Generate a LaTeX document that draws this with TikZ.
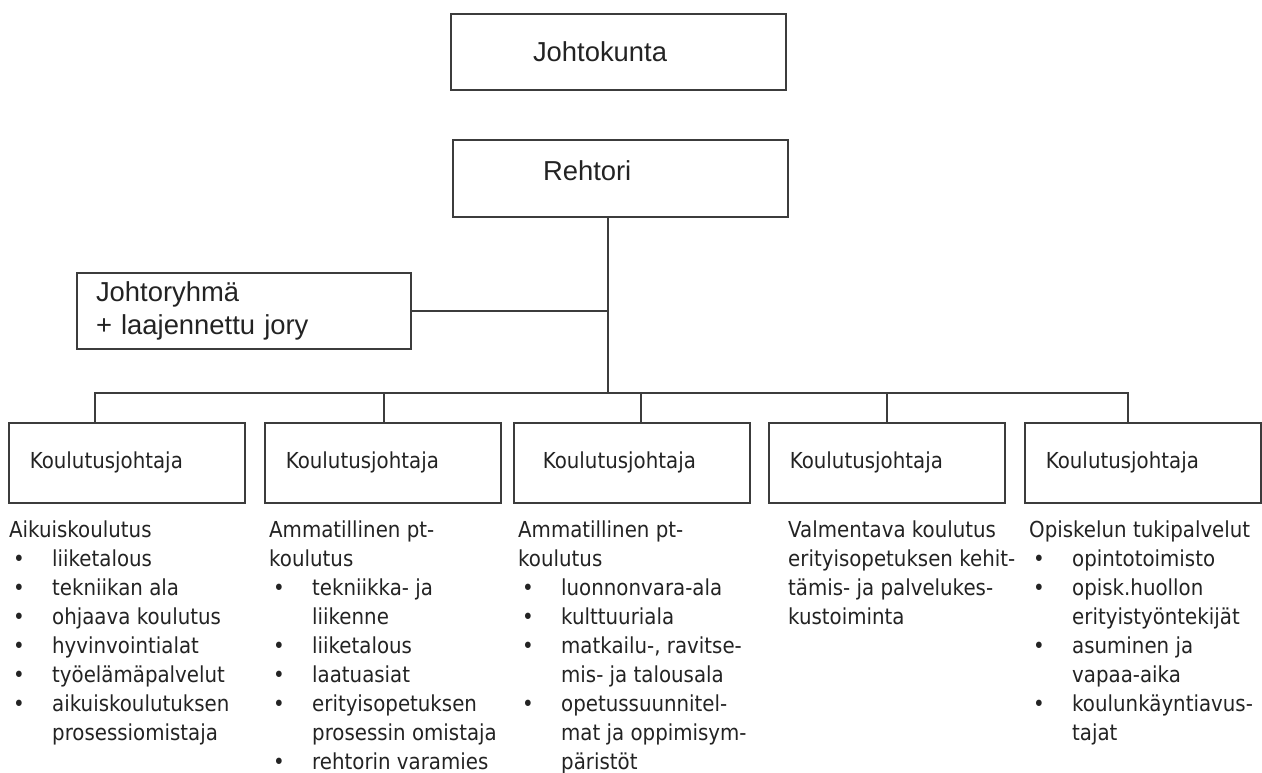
\documentclass[tikz,border=0pt]{standalone}
\usepackage{fontspec}
\usetikzlibrary{positioning}
\newfontfamily\arialfont{Liberation Sans}
\newfontfamily\tahomafont[FakeStretch=0.9]{DejaVu Sans}
\definecolor{boxline}{RGB}{60,60,60}
\definecolor{textgray}{RGB}{35,35,35}
\newcommand{\bitem}[1]{\unskip\hspace*{4pt}\makebox[39pt][l]{•}#1}
\newcommand{\bcont}[1]{\unskip\hspace*{43pt}#1}

\begin{document}
\begin{tikzpicture}[x=1pt, y=-1pt,
                    topbox/.style={draw=boxline, line width=1.6pt, align=left, minimum height=76pt, text=textgray, font=\arialfont\fontsize{27.4}{33}\selectfont},
                    kbox/.style={draw=boxline, line width=1.6pt, align=left, minimum height=80pt, inner xsep=21pt, text width=194pt, text=textgray, font=\tahomafont\fontsize{22}{29}\selectfont},
                    listtext/.style={align=left, inner sep=0pt, text=textgray, font=\tahomafont\fontsize{22}{29}\selectfont},
                    line/.style={draw=boxline, line width=1.6pt, line cap=rect}
                ]
                \useasboundingbox (0,0) rectangle (1262,773);

                % --- Johto ---
                \node[topbox, inner xsep=82pt, text width=171pt] (johtokunta) at (618.5,52) {Johtokunta};
                \node[topbox, minimum height=77pt, inner xsep=90pt, text width=155pt, text depth=15pt] (rehtori) at (620.5,178.5) {Rehtori};
                \node[topbox, inner xsep=19pt, text width=296pt] (jory) at (244,311) {Johtoryhmä\\+ laajennettu jory};

                % --- Koulutusjohtajat ---
                \node[kbox, anchor=north west] (k1) at (8,422) {Koulutusjohtaja};
                \node[kbox, right=18.4pt of k1] (k2) {Koulutusjohtaja};
                \node[kbox, right=11.4pt of k2, inner xsep=29pt, text width=178pt] (k3) {Koulutusjohtaja};
                \node[kbox, right=17.4pt of k3] (k4) {Koulutusjohtaja};
                \node[kbox, right=18.4pt of k4] (k5) {Koulutusjohtaja};

                \coordinate (trunk) at (608,393);
                \draw[line] (rehtori.south -| trunk) -- (trunk);
                \draw[line] (jory.east) -- (jory.east -| trunk);
                \foreach \i/\x in {1/95,2/384,3/641,4/887,5/1128}{
                    \coordinate (d\i) at (\x,393);
                    \draw[line] (d\i) -- (d\i |- k\i.north);
                }
                \draw[line] (d1) -- (d5);

                % --- Tehtavat ---
                \node[listtext, below right=13pt and 1pt of k1.south west] (list1) {\strut Aikuiskoulutus\\
                    \bitem{liiketalous}\\
                    \bitem{tekniikan ala}\\
                    \bitem{ohjaava koulutus}\\
                    \bitem{hyvinvointialat}\\
                    \bitem{työelämäpalvelut}\\
                    \bitem{aikuiskoulutuksen}\\
                    \bcont{prosessiomistaja}};
                \node[listtext, below right=13pt and 5pt of k2.south west] (list2) {\strut Ammatillinen pt-\\
                    koulutus\\
                    \bitem{tekniikka- ja}\\
                    \bcont{liikenne}\\
                    \bitem{liiketalous}\\
                    \bitem{laatuasiat}\\
                    \bitem{erityisopetuksen}\\
                    \bcont{prosessin omistaja}\\
                    \bitem{rehtorin varamies}};
                \node[listtext, below right=13pt and 5pt of k3.south west] (list3) {\strut Ammatillinen pt-\\
                    koulutus\\
                    \bitem{luonnonvara-ala}\\
                    \bitem{kulttuuriala}\\
                    \bitem{matkailu-, ravitse-}\\
                    \bcont{mis- ja talousala}\\
                    \bitem{opetussuunnitel-}\\
                    \bcont{mat ja oppimisym-}\\
                    \bcont{päristöt}};
                \node[listtext, below right=13pt and 20pt of k4.south west] (list4) {\strut Valmentava koulutus\\
                    erityisopetuksen kehit-\\
                    tämis- ja palvelukes-\\
                    kustoiminta};
                \node[listtext, below right=13pt and 5pt of k5.south west] (list5) {\strut Opiskelun tukipalvelut\\
                    \bitem{opintotoimisto}\\
                    \bitem{opisk.huollon}\\
                    \bcont{erityistyöntekijät}\\
                    \bitem{asuminen ja}\\
                    \bcont{vapaa-aika}\\
                    \bitem{koulunkäyntiavus-}\\
                    \bcont{tajat}};

                \end{tikzpicture}
\end{document}
